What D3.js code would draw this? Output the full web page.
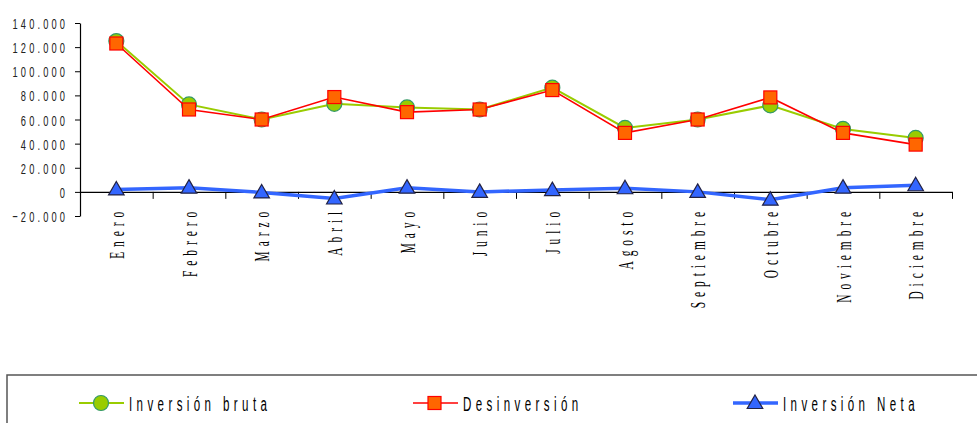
<!DOCTYPE html>
<html>
<head>
<meta charset="utf-8">
<script src="https://cdn.jsdelivr.net/npm/d3@7"></script>
<style>
  body { margin: 0; background: #fff; }
  svg { display: block; }
</style>
</head>
<body>
<div id="chart"></div>
<script>
// Datos mensuales
const months = ['Enero', 'Febrero', 'Marzo', 'Abril', 'Mayo', 'Junio', 'Julio',
  'Agosto', 'Septiembre', 'Octubre', 'Noviembre', 'Diciembre'];
const inversionBruta = [125000, 72500, 60000, 73000, 70000, 68300, 86400, 53000, 60000, 71700, 52200, 44700];
const desinversion = [123000, 68300, 60000, 78600, 66100, 68300, 84400, 48900, 60000, 78300, 48900, 39200];
const inversionNeta = [2000, 3500, -500, -5500, 3500, 0, 1500, 3000, 0, -6500, 3500, 5500];
const yTicks = [-20000, 0, 20000, 40000, 60000, 80000, 100000, 120000, 140000];
const legendLabels = ['Inversión bruta', 'Desinversión', 'Inversión Neta'];

const width = 977;
const height = 423;

const svg = d3
  .select('#chart')
  .append('svg')
  .attr('width', width)
  .attr('height', height);

const xBand = d3.scaleBand().domain(months).range([80, 952]);
const xPos = d3.scaleLinear().domain([0, 12]).range([80, 952]);
const yScale = d3.scaleLinear().domain([-20000, 140000]).range([216, 23]);

const locale = d3.formatLocale({ decimal: ',', thousands: '.', grouping: [3], currency: ['', '€'] });
const fmt = locale.format(',');

// y axis
const yAxisG = svg
  .append('g')
  .attr('class', 'y-axis')
  .attr('transform', 'translate(80, 0)')
  .call(d3.axisLeft(yScale).tickValues(yTicks).tickFormat(fmt).tickSize(5).tickSizeOuter(0).tickPadding(0));
yAxisG.select('.domain').attr('stroke', '#000').attr('stroke-width', 1.2);
yAxisG.selectAll('.tick line').attr('stroke', '#000');
yAxisG
  .selectAll('.tick text')
  .attr('x', 0)
  .attr('transform', 'translate(-12, 0) scale(0.6, 1)')
  .attr('dy', '0.36em')
  .style('font-family', 'Liberation Sans, Arial, sans-serif')
  .style('font-size', '15.5px')
  .style('letter-spacing', '5.2px')
  .attr('fill', '#222');

// x axis (line at zero with ticks between months)
const xAxisG = svg
  .append('g')
  .attr('class', 'x-axis')
  .attr('transform', `translate(0, ${yScale(0)})`)
  .call(d3.axisBottom(xPos).tickValues(d3.range(13)).tickFormat('').tickSize(7).tickSizeOuter(0));
xAxisG.select('.domain').attr('stroke', '#000').attr('stroke-width', 1.2);
xAxisG.selectAll('.tick line').attr('stroke', '#000');

// month labels
const labelG = svg
  .append('g')
  .attr('transform', `translate(0, ${yScale(0)})`)
  .call(d3.axisBottom(xBand).tickSize(0));
labelG.select('.domain').remove();
labelG
  .selectAll('.tick text')
  .attr('x', 0)
  .attr('y', 0)
  .attr('dy', 0)
  .attr('text-anchor', 'end')
  .attr('transform', 'translate(7.5, 15) rotate(-90) scale(0.52, 1)')
  .style('font-family', 'Liberation Serif, Times New Roman, serif')
  .style('font-size', '22px')
  .style('letter-spacing', '9.5px')
  .attr('fill', '#000');

const cx = (d, i) => xBand(months[i]) + xBand.bandwidth() / 2;

const line = d3
  .line()
  .x((d, i) => cx(d, i))
  .y((d) => yScale(d));

// Inversión bruta
svg
  .append('path')
  .datum(inversionBruta)
  .attr('fill', 'none')
  .attr('stroke', '#99cc00')
  .attr('stroke-width', 2)
  .attr('d', line);
svg
  .selectAll('circle.bruta')
  .data(inversionBruta)
  .join('circle')
  .attr('class', 'bruta')
  .attr('cx', cx)
  .attr('cy', (d) => yScale(d))
  .attr('r', 7.5)
  .attr('fill', '#99cc00')
  .attr('stroke', '#339966')
  .attr('stroke-width', 1.2);

// Desinversión
svg
  .append('path')
  .datum(desinversion)
  .attr('fill', 'none')
  .attr('stroke', '#ff0000')
  .attr('stroke-width', 1.6)
  .attr('d', line);
svg
  .selectAll('rect.desinv')
  .data(desinversion)
  .join('rect')
  .attr('class', 'desinv')
  .attr('x', (d, i) => cx(d, i) - 6.5)
  .attr('y', (d) => yScale(d) - 6.5)
  .attr('width', 13)
  .attr('height', 13)
  .attr('fill', '#ff6600')
  .attr('stroke', '#ff0000')
  .attr('stroke-width', 1.2);

// Inversión neta
const tri = d3.symbol().type(d3.symbolTriangle).size(105);
svg
  .append('path')
  .datum(inversionNeta)
  .attr('fill', 'none')
  .attr('stroke', '#3366ff')
  .attr('stroke-width', 3.5)
  .attr('d', line);
svg
  .selectAll('path.neta')
  .data(inversionNeta)
  .join('path')
  .attr('class', 'neta')
  .attr('d', tri)
  .attr('transform', (d, i) => `translate(${cx(d, i)}, ${yScale(d) + 1})`)
  .attr('fill', '#3366ff')
  .attr('stroke', '#222244')
  .attr('stroke-width', 1.2);

// Legend
svg
  .append('rect')
  .attr('x', 7)
  .attr('y', 375)
  .attr('width', 1000)
  .attr('height', 100)
  .attr('fill', 'none')
  .attr('stroke', '#555')
  .attr('stroke-width', 1.5);

const legendX = [79, 413, 733];
const legendY = 403;
const legendColors = ['#99cc00', '#ff0000', '#3366ff'];
const legendWidths = [2, 1.6, 3.5];

legendLabels.forEach((label, i) => {
  const g = svg.append('g').attr('transform', `translate(${legendX[i]}, ${legendY})`);
  g.append('line')
    .attr('x1', 0)
    .attr('x2', 45)
    .attr('stroke', legendColors[i])
    .attr('stroke-width', legendWidths[i]);
  if (i === 0) {
    g.append('circle').attr('cx', 22).attr('r', 7.5)
      .attr('fill', '#99cc00').attr('stroke', '#339966').attr('stroke-width', 1.2);
  } else if (i === 1) {
    g.append('rect').attr('x', 15).attr('y', -6.5).attr('width', 13).attr('height', 13)
      .attr('fill', '#ff6600').attr('stroke', '#ff0000').attr('stroke-width', 1.2);
  } else {
    g.append('path').attr('d', tri).attr('transform', 'translate(22, 1)')
      .attr('fill', '#3366ff').attr('stroke', '#222244').attr('stroke-width', 1.2);
  }
  g.append('text')
    .attr('x', 0)
    .attr('y', 0)
    .attr('dy', '0.36em')
    .attr('transform', 'translate(50, 0) scale(0.55, 1)')
    .style('font-family', 'Liberation Sans, Arial, sans-serif')
    .style('font-size', '21px')
    .style('letter-spacing', '8px')
    .attr('fill', '#000')
    .text(label);
});
</script>
</body>
</html>
